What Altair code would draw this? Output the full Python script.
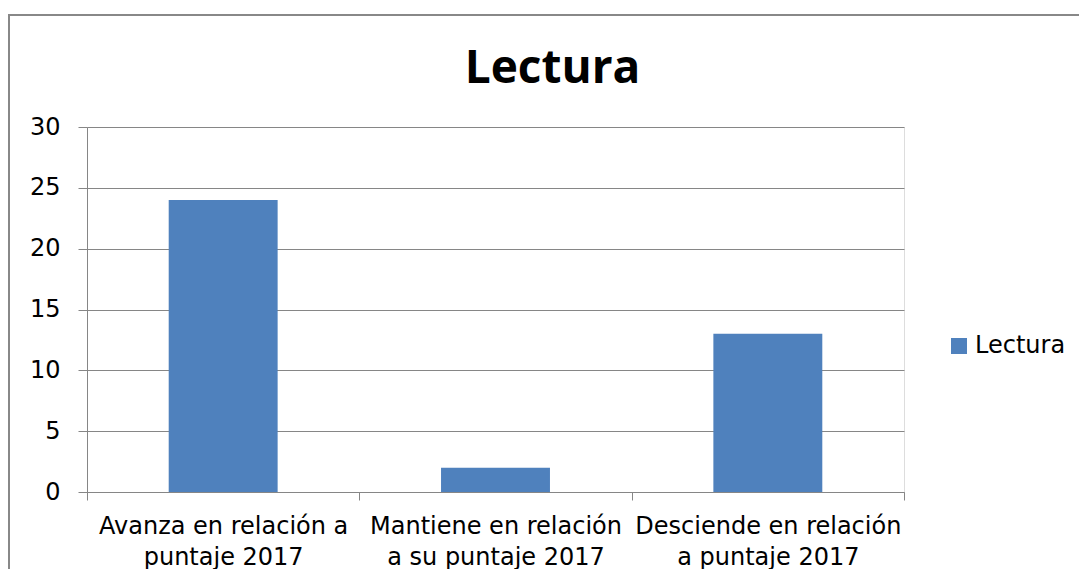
import altair as alt
import pandas as pd

categories = [
    "Avanza en relación a|puntaje 2017",
    "Mantiene en relación|a su puntaje 2017",
    "Desciende en relación|a puntaje 2017",
]
values = [24, 2, 13]
series = "Lectura"
y_ticks = [0, 5, 10, 15, 20, 25, 30]

df = pd.DataFrame({"cat": categories, "val": values, "serie": [series] * 3})

GRAY = "#868686"
FONT = "DejaVu Sans"

bars = alt.Chart(df).mark_bar(color="#4F81BD", width=alt.RelativeBandSize(0.4)).encode(
    x=alt.X(
        "cat:N",
        sort=categories,
        title=None,
        scale=alt.Scale(paddingInner=0, paddingOuter=0),
        axis=alt.Axis(
            labelExpr="split(datum.label, '|')",
            labelAngle=0,
            labelFont=FONT,
            labelFontSize=24,
            labelColor="#000000",
            labelLineHeight=31,
            labelPadding=14,
            labelLimit=0,
            tickBand="extent",
            tickSize=8,
            tickColor=GRAY,
            domainColor=GRAY,
            grid=False,
        ),
    ),
    y=alt.Y(
        "val:Q",
        title=None,
        scale=alt.Scale(domain=[0, 30], nice=False),
        axis=alt.Axis(
            values=y_ticks,
            labelFont=FONT,
            labelFontSize=24,
            labelColor="#000000",
            labelPadding=18,
            tickSize=9,
            tickColor=GRAY,
            domainColor=GRAY,
            gridColor=GRAY,
            gridOpacity=1,
        ),
    ),
    fill=alt.Fill(
        "serie:N",
        title=None,
        scale=alt.Scale(range=["#4F81BD"]),
        legend=alt.Legend(
            orient="none",
            legendX=860,
            legendY=207,
            symbolType="square",
            symbolSize=256,
            symbolStrokeWidth=0,
            labelFont=FONT,
            labelFontSize=24,
            labelColor="#000000",
            labelOffset=4,
        ),
    ),
)

border = alt.Chart(df).mark_rect(
    filled=False, stroke="#888888", strokeWidth=2, clip=False
).encode(
    x=alt.value(-78), x2=alt.value(1100), y=alt.value(-112), y2=alt.value(700)
)

chart = (
    alt.layer(border, bars)
    .properties(
        width=817,
        height=365,
        autosize=alt.AutoSizeParams(type="none"),
        padding={"left": 79, "top": 119, "right": 175, "bottom": 77},
        title=alt.TitleParams(
            text="Lectura",
            font="Open Sans",
            fontSize=46,
            fontWeight="bold",
            color="#000000",
            anchor="middle",
            dx=57,
            offset=0,
            dy=79,
        ),
    )
    .configure_view(stroke=None)
    .configure(background="white")
)

chart.save("out.html", embed_options={"renderer": "svg", "actions": False})
